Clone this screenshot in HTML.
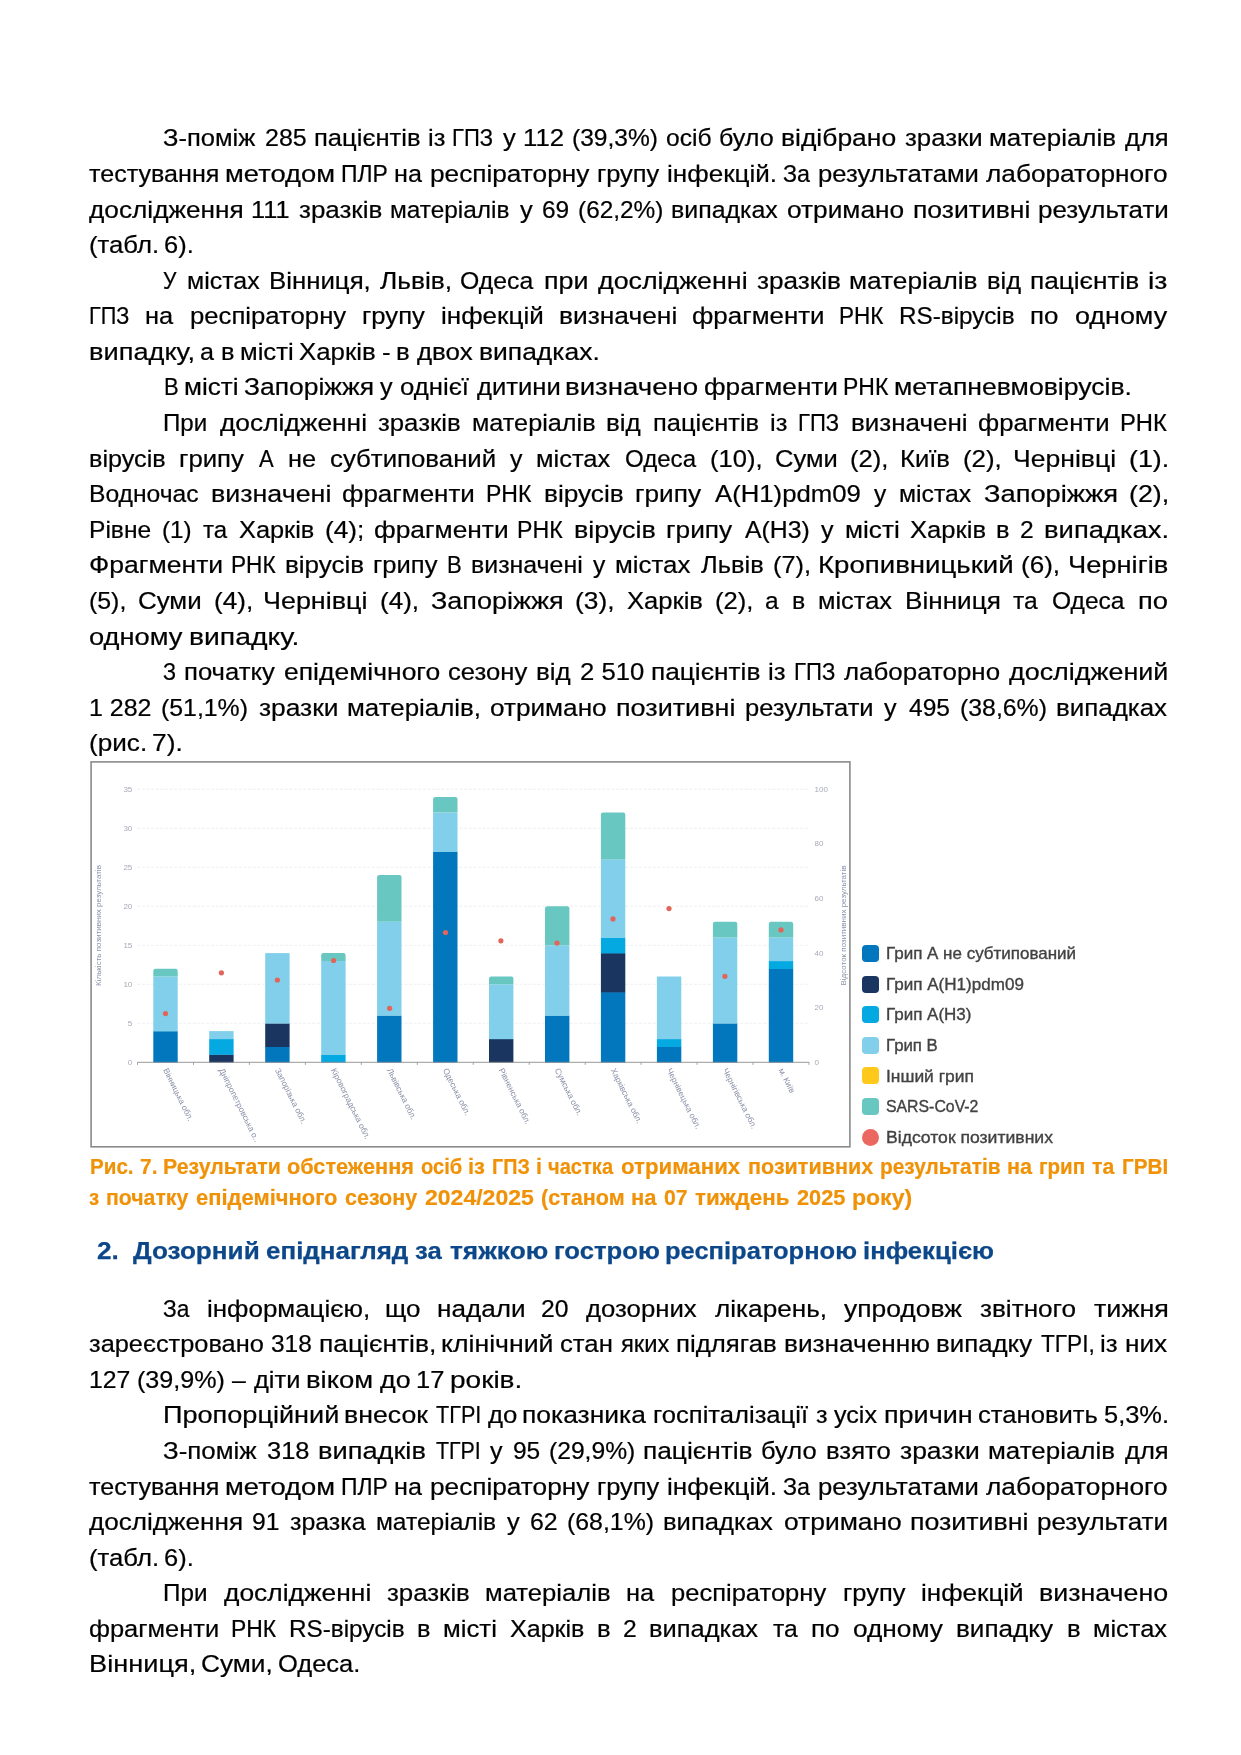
<!DOCTYPE html>
<html lang="uk"><head><meta charset="utf-8"><title>page</title>
<style>
html,body{margin:0;padding:0;background:#fff;}
body{width:1241px;height:1755px;position:relative;overflow:hidden;font-family:"Liberation Sans",sans-serif;}
#pg{position:absolute;left:0;top:0;width:1241px;height:1755px;will-change:transform;}
.ln{position:absolute;white-space:pre;line-height:30px;transform-origin:0 0;color:#000;}
.b{font-size:24.5px;-webkit-text-stroke:0.22px #000;}
.c{font-size:22.0px;font-weight:700;color:#F09208;-webkit-text-stroke:0.2px #F09208;}
.g{font-size:16.2px;color:#424242;-webkit-text-stroke:0.35px #424242;}
.h{font-size:24.5px;font-weight:700;color:#0C4789;-webkit-text-stroke:0.25px #0C4789;}
</style></head>
<body>
<div id="pg">
<div class="ln b" style="left:163.3px;top:123.41px;transform:scaleX(1.0428)">З-поміж</div>
<div class="ln b" style="left:264.5px;top:123.41px;transform:scaleX(1.0200)">285</div>
<div class="ln b" style="left:313.6px;top:123.41px;transform:scaleX(1.0436)">пацієнтів</div>
<div class="ln b" style="left:427.5px;top:123.41px;transform:scaleX(1.0413)">із</div>
<div class="ln b" style="left:452.4px;top:123.41px;transform:scaleX(0.8987)">ГПЗ</div>
<div class="ln b" style="left:502.5px;top:123.41px;transform:scaleX(1.0412)">у</div>
<div class="ln b" style="left:523.4px;top:123.41px;transform:scaleX(1.0522)">112</div>
<div class="ln b" style="left:571.9px;top:123.41px;transform:scaleX(1.0020)">(39,3%)</div>
<div class="ln b" style="left:665.6px;top:123.41px;transform:scaleX(1.0036)">осіб</div>
<div class="ln b" style="left:718.8px;top:123.41px;transform:scaleX(1.0250)">було</div>
<div class="ln b" style="left:780.9px;top:123.41px;transform:scaleX(1.0800)">відібрано</div>
<div class="ln b" style="left:904.5px;top:123.41px;transform:scaleX(1.0519)">зразки</div>
<div class="ln b" style="left:988.9px;top:123.41px;transform:scaleX(1.0589)">матеріалів</div>
<div class="ln b" style="left:1124.7px;top:123.41px;transform:scaleX(1.0431)">для</div>
<div class="ln b" style="left:89.1px;top:158.99px;transform:scaleX(1.0240)">тестування</div>
<div class="ln b" style="left:225.2px;top:158.99px;transform:scaleX(1.1176)">методом</div>
<div class="ln b" style="left:340.9px;top:158.99px;transform:scaleX(0.9362)">ПЛР</div>
<div class="ln b" style="left:394.1px;top:158.99px;transform:scaleX(1.0265)">на</div>
<div class="ln b" style="left:429.7px;top:158.99px;transform:scaleX(1.0700)">респіраторну</div>
<div class="ln b" style="left:596.6px;top:158.99px;transform:scaleX(1.0369)">групу</div>
<div class="ln b" style="left:666.5px;top:158.99px;transform:scaleX(1.0645)">інфекцій.</div>
<div class="ln b" style="left:782.9px;top:158.99px;transform:scaleX(0.9524)">За</div>
<div class="ln b" style="left:817.7px;top:158.99px;transform:scaleX(1.0472)">результатами</div>
<div class="ln b" style="left:986.1px;top:158.99px;transform:scaleX(1.0704)">лабораторного</div>
<div class="ln b" style="left:89.1px;top:194.57px;transform:scaleX(1.0704)">дослідження</div>
<div class="ln b" style="left:251.1px;top:194.57px;transform:scaleX(1.0334)">111</div>
<div class="ln b" style="left:298.8px;top:194.57px;transform:scaleX(1.0591)">зразків</div>
<div class="ln b" style="left:390.3px;top:194.57px;transform:scaleX(0.9957)">матеріалів</div>
<div class="ln b" style="left:519.6px;top:194.57px;transform:scaleX(1.0382)">у</div>
<div class="ln b" style="left:542.1px;top:194.57px;transform:scaleX(0.9977)">69</div>
<div class="ln b" style="left:577.6px;top:194.57px;transform:scaleX(0.9959)">(62,2%)</div>
<div class="ln b" style="left:670.8px;top:194.57px;transform:scaleX(1.0171)">випадках</div>
<div class="ln b" style="left:787.3px;top:194.57px;transform:scaleX(1.0727)">отримано</div>
<div class="ln b" style="left:912.6px;top:194.57px;transform:scaleX(1.0821)">позитивні</div>
<div class="ln b" style="left:1037.5px;top:194.57px;transform:scaleX(1.0600)">результати</div>
<div class="ln b" style="left:89.1px;top:230.15px;transform:scaleX(1.0501)">(табл.</div>
<div class="ln b" style="left:163.6px;top:230.15px;transform:scaleX(1.0403)">6).</div>
<div class="ln b" style="left:163.4px;top:265.73px;transform:scaleX(0.8613)">У</div>
<div class="ln b" style="left:187.0px;top:265.73px;transform:scaleX(1.0182)">містах</div>
<div class="ln b" style="left:269.0px;top:265.73px;transform:scaleX(1.0533)">Вінниця,</div>
<div class="ln b" style="left:380.0px;top:265.73px;transform:scaleX(1.0751)">Львів,</div>
<div class="ln b" style="left:460.4px;top:265.73px;transform:scaleX(1.0122)">Одеса</div>
<div class="ln b" style="left:543.6px;top:265.73px;transform:scaleX(1.0963)">при</div>
<div class="ln b" style="left:597.7px;top:265.73px;transform:scaleX(1.0941)">дослідженні</div>
<div class="ln b" style="left:756.6px;top:265.73px;transform:scaleX(1.0669)">зразків</div>
<div class="ln b" style="left:849.3px;top:265.73px;transform:scaleX(1.0713)">матеріалів</div>
<div class="ln b" style="left:986.7px;top:265.73px;transform:scaleX(1.0380)">від</div>
<div class="ln b" style="left:1030.2px;top:265.73px;transform:scaleX(1.0699)">пацієнтів</div>
<div class="ln b" style="left:1148.2px;top:265.73px;transform:scaleX(1.1674)">із</div>
<div class="ln b" style="left:89.4px;top:301.31px;transform:scaleX(0.8841)">ГПЗ</div>
<div class="ln b" style="left:145.1px;top:301.31px;transform:scaleX(1.0381)">на</div>
<div class="ln b" style="left:189.7px;top:301.31px;transform:scaleX(1.0490)">респіраторну</div>
<div class="ln b" style="left:362.2px;top:301.31px;transform:scaleX(1.0463)">групу</div>
<div class="ln b" style="left:441.3px;top:301.31px;transform:scaleX(1.0628)">інфекцій</div>
<div class="ln b" style="left:558.5px;top:301.31px;transform:scaleX(1.0758)">визначені</div>
<div class="ln b" style="left:692.0px;top:301.31px;transform:scaleX(1.0584)">фрагменти</div>
<div class="ln b" style="left:839.1px;top:301.31px;transform:scaleX(0.9189)">РНК</div>
<div class="ln b" style="left:899.4px;top:301.31px;transform:scaleX(0.9905)">RS-вірусів</div>
<div class="ln b" style="left:1030.3px;top:301.31px;transform:scaleX(1.0554)">по</div>
<div class="ln b" style="left:1074.6px;top:301.31px;transform:scaleX(1.0974)">одному</div>
<div class="ln b" style="left:89.0px;top:336.89px;transform:scaleX(1.1108)">випадку,</div>
<div class="ln b" style="left:199.9px;top:336.89px;transform:scaleX(1.0254)">а</div>
<div class="ln b" style="left:220.5px;top:336.89px;transform:scaleX(1.0368)">в</div>
<div class="ln b" style="left:239.5px;top:336.89px;transform:scaleX(1.0488)">місті</div>
<div class="ln b" style="left:299.3px;top:336.89px;transform:scaleX(1.0536)">Харків</div>
<div class="ln b" style="left:382.0px;top:336.89px;transform:scaleX(1.0570)">-</div>
<div class="ln b" style="left:396.1px;top:336.89px;transform:scaleX(1.0524)">в</div>
<div class="ln b" style="left:416.8px;top:336.89px;transform:scaleX(1.0563)">двох</div>
<div class="ln b" style="left:478.7px;top:336.89px;transform:scaleX(1.0796)">випадках.</div>
<div class="ln b" style="left:163.6px;top:372.47px;transform:scaleX(0.8971)">В</div>
<div class="ln b" style="left:183.5px;top:372.47px;transform:scaleX(1.0636)">місті</div>
<div class="ln b" style="left:243.6px;top:372.47px;transform:scaleX(1.0799)">Запоріжжя</div>
<div class="ln b" style="left:380.0px;top:372.47px;transform:scaleX(1.0302)">у</div>
<div class="ln b" style="left:399.8px;top:372.47px;transform:scaleX(1.0505)">однієї</div>
<div class="ln b" style="left:476.5px;top:372.47px;transform:scaleX(1.0454)">дитини</div>
<div class="ln b" style="left:564.8px;top:372.47px;transform:scaleX(1.1275)">визначено</div>
<div class="ln b" style="left:703.9px;top:372.47px;transform:scaleX(1.0699)">фрагменти</div>
<div class="ln b" style="left:842.5px;top:372.47px;transform:scaleX(0.9375)">РНК</div>
<div class="ln b" style="left:894.1px;top:372.47px;transform:scaleX(1.0858)">метапневмовірусів.</div>
<div class="ln b" style="left:163.4px;top:408.05px;transform:scaleX(0.9855)">При</div>
<div class="ln b" style="left:219.6px;top:408.05px;transform:scaleX(1.0751)">дослідженні</div>
<div class="ln b" style="left:378.1px;top:408.05px;transform:scaleX(1.0504)">зразків</div>
<div class="ln b" style="left:471.7px;top:408.05px;transform:scaleX(1.0302)">матеріалів</div>
<div class="ln b" style="left:606.3px;top:408.05px;transform:scaleX(1.0611)">від</div>
<div class="ln b" style="left:652.7px;top:408.05px;transform:scaleX(1.0393)">пацієнтів</div>
<div class="ln b" style="left:769.9px;top:408.05px;transform:scaleX(1.0410)">із</div>
<div class="ln b" style="left:798.4px;top:408.05px;transform:scaleX(0.9016)">ГПЗ</div>
<div class="ln b" style="left:850.6px;top:408.05px;transform:scaleX(1.0603)">визначені</div>
<div class="ln b" style="left:978.2px;top:408.05px;transform:scaleX(1.0499)">фрагменти</div>
<div class="ln b" style="left:1119.9px;top:408.05px;transform:scaleX(0.9705)">РНК</div>
<div class="ln b" style="left:89.1px;top:443.63px;transform:scaleX(1.0295)">вірусів</div>
<div class="ln b" style="left:178.8px;top:443.63px;transform:scaleX(1.0511)">грипу</div>
<div class="ln b" style="left:259.4px;top:443.63px;transform:scaleX(0.8960)">А</div>
<div class="ln b" style="left:288.1px;top:443.63px;transform:scaleX(1.0348)">не</div>
<div class="ln b" style="left:329.8px;top:443.63px;transform:scaleX(1.0526)">субтипований</div>
<div class="ln b" style="left:510.0px;top:443.63px;transform:scaleX(1.0133)">у</div>
<div class="ln b" style="left:536.4px;top:443.63px;transform:scaleX(1.0400)">містах</div>
<div class="ln b" style="left:625.1px;top:443.63px;transform:scaleX(0.9822)">Одеса</div>
<div class="ln b" style="left:710.4px;top:443.63px;transform:scaleX(1.0429)">(10),</div>
<div class="ln b" style="left:775.2px;top:443.63px;transform:scaleX(1.0408)">Суми</div>
<div class="ln b" style="left:850.3px;top:443.63px;transform:scaleX(1.0430)">(2),</div>
<div class="ln b" style="left:900.1px;top:443.63px;transform:scaleX(1.0456)">Київ</div>
<div class="ln b" style="left:963.1px;top:443.63px;transform:scaleX(1.0556)">(2),</div>
<div class="ln b" style="left:1013.4px;top:443.63px;transform:scaleX(1.0842)">Чернівці</div>
<div class="ln b" style="left:1128.8px;top:443.63px;transform:scaleX(1.0951)">(1).</div>
<div class="ln b" style="left:89.2px;top:479.21px;transform:scaleX(1.0055)">Водночас</div>
<div class="ln b" style="left:210.6px;top:479.21px;transform:scaleX(1.0948)">визначені</div>
<div class="ln b" style="left:342.3px;top:479.21px;transform:scaleX(1.0608)">фрагменти</div>
<div class="ln b" style="left:485.8px;top:479.21px;transform:scaleX(0.9408)">РНК</div>
<div class="ln b" style="left:543.6px;top:479.21px;transform:scaleX(1.0689)">вірусів</div>
<div class="ln b" style="left:634.6px;top:479.21px;transform:scaleX(1.0692)">грипу</div>
<div class="ln b" style="left:714.9px;top:479.21px;transform:scaleX(1.0494)">A(H1)pdm09</div>
<div class="ln b" style="left:873.7px;top:479.21px;transform:scaleX(1.0013)">у</div>
<div class="ln b" style="left:898.5px;top:479.21px;transform:scaleX(1.0129)">містах</div>
<div class="ln b" style="left:983.9px;top:479.21px;transform:scaleX(1.1135)">Запоріжжя</div>
<div class="ln b" style="left:1128.8px;top:479.21px;transform:scaleX(1.0950)">(2),</div>
<div class="ln b" style="left:89.2px;top:514.79px;transform:scaleX(1.0034)">Рівне</div>
<div class="ln b" style="left:161.8px;top:514.79px;transform:scaleX(0.9916)">(1)</div>
<div class="ln b" style="left:202.5px;top:514.79px;transform:scaleX(0.9810)">та</div>
<div class="ln b" style="left:239.1px;top:514.79px;transform:scaleX(1.0350)">Харків</div>
<div class="ln b" style="left:324.6px;top:514.79px;transform:scaleX(1.0700)">(4);</div>
<div class="ln b" style="left:373.5px;top:514.79px;transform:scaleX(1.0749)">фрагменти</div>
<div class="ln b" style="left:517.4px;top:514.79px;transform:scaleX(0.9451)">РНК</div>
<div class="ln b" style="left:574.0px;top:514.79px;transform:scaleX(1.0990)">вірусів</div>
<div class="ln b" style="left:665.9px;top:514.79px;transform:scaleX(1.0715)">грипу</div>
<div class="ln b" style="left:745.0px;top:514.79px;transform:scaleX(1.0117)">A(H3)</div>
<div class="ln b" style="left:821.1px;top:514.79px;transform:scaleX(1.0250)">у</div>
<div class="ln b" style="left:844.8px;top:514.79px;transform:scaleX(1.0687)">місті</div>
<div class="ln b" style="left:910.2px;top:514.79px;transform:scaleX(1.0440)">Харків</div>
<div class="ln b" style="left:996.3px;top:514.79px;transform:scaleX(1.0376)">в</div>
<div class="ln b" style="left:1020.4px;top:514.79px;transform:scaleX(1.0026)">2</div>
<div class="ln b" style="left:1043.9px;top:514.79px;transform:scaleX(1.1191)">випадках.</div>
<div class="ln b" style="left:89.0px;top:550.37px;transform:scaleX(1.0843)">Фрагменти</div>
<div class="ln b" style="left:231.1px;top:550.37px;transform:scaleX(0.9227)">РНК</div>
<div class="ln b" style="left:285.4px;top:550.37px;transform:scaleX(1.0628)">вірусів</div>
<div class="ln b" style="left:373.3px;top:550.37px;transform:scaleX(1.0427)">грипу</div>
<div class="ln b" style="left:447.4px;top:550.37px;transform:scaleX(0.9001)">В</div>
<div class="ln b" style="left:470.9px;top:550.37px;transform:scaleX(1.0164)">визначені</div>
<div class="ln b" style="left:592.5px;top:550.37px;transform:scaleX(1.0051)">у</div>
<div class="ln b" style="left:614.6px;top:550.37px;transform:scaleX(1.0556)">містах</div>
<div class="ln b" style="left:701.0px;top:550.37px;transform:scaleX(1.0389)">Львів</div>
<div class="ln b" style="left:772.6px;top:550.37px;transform:scaleX(1.0345)">(7),</div>
<div class="ln b" style="left:817.7px;top:550.37px;transform:scaleX(1.1266)">Кропивницький</div>
<div class="ln b" style="left:1021.3px;top:550.37px;transform:scaleX(1.0642)">(6),</div>
<div class="ln b" style="left:1067.6px;top:550.37px;transform:scaleX(1.1138)">Чернігів</div>
<div class="ln b" style="left:89.1px;top:585.95px;transform:scaleX(1.0154)">(5),</div>
<div class="ln b" style="left:138.1px;top:585.95px;transform:scaleX(1.0573)">Суми</div>
<div class="ln b" style="left:213.5px;top:585.95px;transform:scaleX(1.0659)">(4),</div>
<div class="ln b" style="left:263.4px;top:585.95px;transform:scaleX(1.0983)">Чернівці</div>
<div class="ln b" style="left:379.6px;top:585.95px;transform:scaleX(1.0630)">(4),</div>
<div class="ln b" style="left:430.6px;top:585.95px;transform:scaleX(1.1013)">Запоріжжя</div>
<div class="ln b" style="left:574.9px;top:585.95px;transform:scaleX(1.0743)">(3),</div>
<div class="ln b" style="left:626.6px;top:585.95px;transform:scaleX(1.0438)">Харків</div>
<div class="ln b" style="left:715.1px;top:585.95px;transform:scaleX(1.0426)">(2),</div>
<div class="ln b" style="left:765.2px;top:585.95px;transform:scaleX(0.9981)">а</div>
<div class="ln b" style="left:792.3px;top:585.95px;transform:scaleX(1.0159)">в</div>
<div class="ln b" style="left:817.9px;top:585.95px;transform:scaleX(1.0369)">містах</div>
<div class="ln b" style="left:904.6px;top:585.95px;transform:scaleX(1.0663)">Вінниця</div>
<div class="ln b" style="left:1013.4px;top:585.95px;transform:scaleX(1.0006)">та</div>
<div class="ln b" style="left:1052.0px;top:585.95px;transform:scaleX(1.0025)">Одеса</div>
<div class="ln b" style="left:1137.8px;top:585.95px;transform:scaleX(1.1138)">по</div>
<div class="ln b" style="left:89.0px;top:621.53px;transform:scaleX(1.1120)">одному</div>
<div class="ln b" style="left:188.6px;top:621.53px;transform:scaleX(1.1558)">випадку.</div>
<div class="ln b" style="left:163.4px;top:657.11px;transform:scaleX(0.8832)">З</div>
<div class="ln b" style="left:184.1px;top:657.11px;transform:scaleX(1.0475)">початку</div>
<div class="ln b" style="left:284.1px;top:657.11px;transform:scaleX(1.0808)">епідемічного</div>
<div class="ln b" style="left:448.4px;top:657.11px;transform:scaleX(1.0462)">сезону</div>
<div class="ln b" style="left:536.2px;top:657.11px;transform:scaleX(1.0586)">від</div>
<div class="ln b" style="left:579.5px;top:657.11px;transform:scaleX(1.0482)">2 510</div>
<div class="ln b" style="left:651.4px;top:657.11px;transform:scaleX(1.0715)">пацієнтів</div>
<div class="ln b" style="left:768.3px;top:657.11px;transform:scaleX(1.0527)">із</div>
<div class="ln b" style="left:793.5px;top:657.11px;transform:scaleX(0.9050)">ГПЗ</div>
<div class="ln b" style="left:844.0px;top:657.11px;transform:scaleX(1.0568)">лабораторно</div>
<div class="ln b" style="left:1009.1px;top:657.11px;transform:scaleX(1.0982)">досліджений</div>
<div class="ln b" style="left:89.1px;top:692.69px;transform:scaleX(1.0192)">1 282</div>
<div class="ln b" style="left:161.4px;top:692.69px;transform:scaleX(1.0132)">(51,1%)</div>
<div class="ln b" style="left:258.7px;top:692.69px;transform:scaleX(1.0762)">зразки</div>
<div class="ln b" style="left:347.1px;top:692.69px;transform:scaleX(1.0576)">матеріалів,</div>
<div class="ln b" style="left:490.2px;top:692.69px;transform:scaleX(1.0676)">отримано</div>
<div class="ln b" style="left:616.4px;top:692.69px;transform:scaleX(1.1010)">позитивні</div>
<div class="ln b" style="left:744.9px;top:692.69px;transform:scaleX(1.0417)">результати</div>
<div class="ln b" style="left:884.2px;top:692.69px;transform:scaleX(1.0279)">у</div>
<div class="ln b" style="left:908.7px;top:692.69px;transform:scaleX(1.0027)">495</div>
<div class="ln b" style="left:959.7px;top:692.69px;transform:scaleX(1.0136)">(38,6%)</div>
<div class="ln b" style="left:1055.8px;top:692.69px;transform:scaleX(1.0574)">випадках</div>
<div class="ln b" style="left:89.1px;top:728.27px;transform:scaleX(1.0666)">(рис.</div>
<div class="ln b" style="left:151.6px;top:728.27px;transform:scaleX(1.0765)">7).</div>
<div class="ln b" style="left:163.4px;top:1293.61px;transform:scaleX(0.9290)">За</div>
<div class="ln b" style="left:207.0px;top:1293.61px;transform:scaleX(1.0593)">інформацією,</div>
<div class="ln b" style="left:385.0px;top:1293.61px;transform:scaleX(1.0593)">що</div>
<div class="ln b" style="left:436.5px;top:1293.61px;transform:scaleX(1.0655)">надали</div>
<div class="ln b" style="left:540.9px;top:1293.61px;transform:scaleX(1.0081)">20</div>
<div class="ln b" style="left:586.1px;top:1293.61px;transform:scaleX(1.0510)">дозорних</div>
<div class="ln b" style="left:715.4px;top:1293.61px;transform:scaleX(1.0677)">лікарень,</div>
<div class="ln b" style="left:844.0px;top:1293.61px;transform:scaleX(1.0782)">упродовж</div>
<div class="ln b" style="left:980.0px;top:1293.61px;transform:scaleX(1.0666)">звітного</div>
<div class="ln b" style="left:1093.5px;top:1293.61px;transform:scaleX(1.1010)">тижня</div>
<div class="ln b" style="left:89.1px;top:1329.19px;transform:scaleX(1.0355)">зареєстровано</div>
<div class="ln b" style="left:271.4px;top:1329.19px;transform:scaleX(0.9982)">318</div>
<div class="ln b" style="left:318.7px;top:1329.19px;transform:scaleX(1.0770)">пацієнтів,</div>
<div class="ln b" style="left:441.3px;top:1329.19px;transform:scaleX(1.0885)">клінічний</div>
<div class="ln b" style="left:560.3px;top:1329.19px;transform:scaleX(1.0498)">стан</div>
<div class="ln b" style="left:620.6px;top:1329.19px;transform:scaleX(0.9704)">яких</div>
<div class="ln b" style="left:676.4px;top:1329.19px;transform:scaleX(1.0531)">підлягав</div>
<div class="ln b" style="left:783.6px;top:1329.19px;transform:scaleX(1.0695)">визначенню</div>
<div class="ln b" style="left:936.0px;top:1329.19px;transform:scaleX(1.0550)">випадку</div>
<div class="ln b" style="left:1041.0px;top:1329.19px;transform:scaleX(0.9235)">ТГРІ,</div>
<div class="ln b" style="left:1100.4px;top:1329.19px;transform:scaleX(1.0569)">із</div>
<div class="ln b" style="left:1124.7px;top:1329.19px;transform:scaleX(1.0700)">них</div>
<div class="ln b" style="left:89.2px;top:1364.77px;transform:scaleX(1.0121)">127</div>
<div class="ln b" style="left:136.6px;top:1364.77px;transform:scaleX(1.0245)">(39,9%)</div>
<div class="ln b" style="left:231.9px;top:1364.77px;transform:scaleX(1.0149)">–</div>
<div class="ln b" style="left:254.3px;top:1364.77px;transform:scaleX(1.0378)">діти</div>
<div class="ln b" style="left:305.9px;top:1364.77px;transform:scaleX(1.1198)">віком</div>
<div class="ln b" style="left:379.7px;top:1364.77px;transform:scaleX(1.0936)">до</div>
<div class="ln b" style="left:416.1px;top:1364.77px;transform:scaleX(1.0417)">17</div>
<div class="ln b" style="left:450.3px;top:1364.77px;transform:scaleX(1.1425)">років.</div>
<div class="ln b" style="left:163.2px;top:1400.35px;transform:scaleX(1.1056)">Пропорційний</div>
<div class="ln b" style="left:344.1px;top:1400.35px;transform:scaleX(1.0892)">внесок</div>
<div class="ln b" style="left:436.1px;top:1400.35px;transform:scaleX(0.8829)">ТГРІ</div>
<div class="ln b" style="left:487.6px;top:1400.35px;transform:scaleX(1.0516)">до</div>
<div class="ln b" style="left:522.4px;top:1400.35px;transform:scaleX(1.0784)">показника</div>
<div class="ln b" style="left:652.9px;top:1400.35px;transform:scaleX(1.0446)">госпіталізації</div>
<div class="ln b" style="left:815.5px;top:1400.35px;transform:scaleX(1.0298)">з</div>
<div class="ln b" style="left:834.4px;top:1400.35px;transform:scaleX(1.0245)">усіх</div>
<div class="ln b" style="left:883.6px;top:1400.35px;transform:scaleX(1.1005)">причин</div>
<div class="ln b" style="left:977.7px;top:1400.35px;transform:scaleX(1.0454)">становить</div>
<div class="ln b" style="left:1103.9px;top:1400.35px;transform:scaleX(1.0376)">5,3%.</div>
<div class="ln b" style="left:163.3px;top:1435.93px;transform:scaleX(1.0577)">З-поміж</div>
<div class="ln b" style="left:267.3px;top:1435.93px;transform:scaleX(1.0390)">318</div>
<div class="ln b" style="left:318.2px;top:1435.93px;transform:scaleX(1.1111)">випадків</div>
<div class="ln b" style="left:435.8px;top:1435.93px;transform:scaleX(0.8718)">ТГРІ</div>
<div class="ln b" style="left:490.0px;top:1435.93px;transform:scaleX(1.0218)">у</div>
<div class="ln b" style="left:512.7px;top:1435.93px;transform:scaleX(0.9991)">95</div>
<div class="ln b" style="left:548.8px;top:1435.93px;transform:scaleX(1.0056)">(29,9%)</div>
<div class="ln b" style="left:643.1px;top:1435.93px;transform:scaleX(1.0730)">пацієнтів</div>
<div class="ln b" style="left:761.4px;top:1435.93px;transform:scaleX(1.0413)">було</div>
<div class="ln b" style="left:825.6px;top:1435.93px;transform:scaleX(1.0483)">взято</div>
<div class="ln b" style="left:900.1px;top:1435.93px;transform:scaleX(1.0804)">зразки</div>
<div class="ln b" style="left:987.6px;top:1435.93px;transform:scaleX(1.0590)">матеріалів</div>
<div class="ln b" style="left:1124.7px;top:1435.93px;transform:scaleX(1.0431)">для</div>
<div class="ln b" style="left:89.1px;top:1471.51px;transform:scaleX(1.0240)">тестування</div>
<div class="ln b" style="left:225.2px;top:1471.51px;transform:scaleX(1.1176)">методом</div>
<div class="ln b" style="left:340.9px;top:1471.51px;transform:scaleX(0.9362)">ПЛР</div>
<div class="ln b" style="left:394.1px;top:1471.51px;transform:scaleX(1.0265)">на</div>
<div class="ln b" style="left:429.7px;top:1471.51px;transform:scaleX(1.0700)">респіраторну</div>
<div class="ln b" style="left:596.6px;top:1471.51px;transform:scaleX(1.0369)">групу</div>
<div class="ln b" style="left:666.5px;top:1471.51px;transform:scaleX(1.0645)">інфекцій.</div>
<div class="ln b" style="left:782.9px;top:1471.51px;transform:scaleX(0.9524)">За</div>
<div class="ln b" style="left:817.7px;top:1471.51px;transform:scaleX(1.0472)">результатами</div>
<div class="ln b" style="left:986.1px;top:1471.51px;transform:scaleX(1.0704)">лабораторного</div>
<div class="ln b" style="left:89.1px;top:1507.09px;transform:scaleX(1.0656)">дослідження</div>
<div class="ln b" style="left:252.2px;top:1507.09px;transform:scaleX(1.0063)">91</div>
<div class="ln b" style="left:289.9px;top:1507.09px;transform:scaleX(1.0165)">зразка</div>
<div class="ln b" style="left:375.8px;top:1507.09px;transform:scaleX(1.0016)">матеріалів</div>
<div class="ln b" style="left:506.9px;top:1507.09px;transform:scaleX(1.0380)">у</div>
<div class="ln b" style="left:530.4px;top:1507.09px;transform:scaleX(1.0156)">62</div>
<div class="ln b" style="left:567.3px;top:1507.09px;transform:scaleX(1.0149)">(68,1%)</div>
<div class="ln b" style="left:663.1px;top:1507.09px;transform:scaleX(1.0446)">випадках</div>
<div class="ln b" style="left:783.5px;top:1507.09px;transform:scaleX(1.0777)">отримано</div>
<div class="ln b" style="left:910.4px;top:1507.09px;transform:scaleX(1.0927)">позитивні</div>
<div class="ln b" style="left:1037.4px;top:1507.09px;transform:scaleX(1.0606)">результати</div>
<div class="ln b" style="left:89.1px;top:1542.67px;transform:scaleX(1.0501)">(табл.</div>
<div class="ln b" style="left:163.6px;top:1542.67px;transform:scaleX(1.0403)">6).</div>
<div class="ln b" style="left:163.4px;top:1578.25px;transform:scaleX(0.9887)">При</div>
<div class="ln b" style="left:224.1px;top:1578.25px;transform:scaleX(1.0770)">дослідженні</div>
<div class="ln b" style="left:387.2px;top:1578.25px;transform:scaleX(1.0536)">зразків</div>
<div class="ln b" style="left:485.3px;top:1578.25px;transform:scaleX(1.0473)">матеріалів</div>
<div class="ln b" style="left:626.3px;top:1578.25px;transform:scaleX(1.0379)">на</div>
<div class="ln b" style="left:671.0px;top:1578.25px;transform:scaleX(1.0420)">респіраторну</div>
<div class="ln b" style="left:842.6px;top:1578.25px;transform:scaleX(1.0391)">групу</div>
<div class="ln b" style="left:921.4px;top:1578.25px;transform:scaleX(1.0619)">інфекцій</div>
<div class="ln b" style="left:1038.6px;top:1578.25px;transform:scaleX(1.0933)">визначено</div>
<div class="ln b" style="left:89.1px;top:1613.83px;transform:scaleX(1.0390)">фрагменти</div>
<div class="ln b" style="left:230.9px;top:1613.83px;transform:scaleX(0.9344)">РНК</div>
<div class="ln b" style="left:289.2px;top:1613.83px;transform:scaleX(0.9912)">RS-вірусів</div>
<div class="ln b" style="left:417.3px;top:1613.83px;transform:scaleX(1.0350)">в</div>
<div class="ln b" style="left:443.2px;top:1613.83px;transform:scaleX(1.0528)">місті</div>
<div class="ln b" style="left:510.1px;top:1613.83px;transform:scaleX(1.0221)">Харків</div>
<div class="ln b" style="left:596.9px;top:1613.83px;transform:scaleX(1.0475)">в</div>
<div class="ln b" style="left:623.4px;top:1613.83px;transform:scaleX(1.0054)">2</div>
<div class="ln b" style="left:649.4px;top:1613.83px;transform:scaleX(1.0383)">випадках</div>
<div class="ln b" style="left:773.0px;top:1613.83px;transform:scaleX(1.0065)">та</div>
<div class="ln b" style="left:811.3px;top:1613.83px;transform:scaleX(1.0645)">по</div>
<div class="ln b" style="left:853.0px;top:1613.83px;transform:scaleX(1.0709)">одному</div>
<div class="ln b" style="left:956.3px;top:1613.83px;transform:scaleX(1.0658)">випадку</div>
<div class="ln b" style="left:1066.8px;top:1613.83px;transform:scaleX(1.0482)">в</div>
<div class="ln b" style="left:1092.9px;top:1613.83px;transform:scaleX(1.0367)">містах</div>
<div class="ln b" style="left:89.0px;top:1649.41px;transform:scaleX(1.1097)">Вінниця,</div>
<div class="ln b" style="left:201.1px;top:1649.41px;transform:scaleX(1.0701)">Суми,</div>
<div class="ln b" style="left:277.9px;top:1649.41px;transform:scaleX(1.0413)">Одеса.</div>
<div class="ln c" style="left:89.9px;top:1151.88px;transform:scaleX(0.9362)">Рис.</div>
<div class="ln c" style="left:139.8px;top:1151.88px;transform:scaleX(0.9514)">7.</div>
<div class="ln c" style="left:163.1px;top:1151.88px;transform:scaleX(0.9698)">Результати</div>
<div class="ln c" style="left:287.3px;top:1151.88px;transform:scaleX(0.9864)">обстеження</div>
<div class="ln c" style="left:420.6px;top:1151.88px;transform:scaleX(0.9144)">осіб</div>
<div class="ln c" style="left:468.2px;top:1151.88px;transform:scaleX(0.9936)">із</div>
<div class="ln c" style="left:491.8px;top:1151.88px;transform:scaleX(0.8987)">ГПЗ</div>
<div class="ln c" style="left:535.9px;top:1151.88px;transform:scaleX(0.9764)">і</div>
<div class="ln c" style="left:548.2px;top:1151.88px;transform:scaleX(0.9131)">частка</div>
<div class="ln c" style="left:621.2px;top:1151.88px;transform:scaleX(1.0111)">отриманих</div>
<div class="ln c" style="left:747.5px;top:1151.88px;transform:scaleX(0.9799)">позитивних</div>
<div class="ln c" style="left:879.8px;top:1151.88px;transform:scaleX(0.9490)">результатів</div>
<div class="ln c" style="left:1006.7px;top:1151.88px;transform:scaleX(0.9833)">на</div>
<div class="ln c" style="left:1039.2px;top:1151.88px;transform:scaleX(0.9341)">грип</div>
<div class="ln c" style="left:1092.0px;top:1151.88px;transform:scaleX(0.9663)">та</div>
<div class="ln c" style="left:1121.7px;top:1151.88px;transform:scaleX(0.9421)">ГРВІ</div>
<div class="ln c" style="left:89.3px;top:1182.98px;transform:scaleX(0.9329)">з</div>
<div class="ln c" style="left:106.2px;top:1182.98px;transform:scaleX(0.9658)">початку</div>
<div class="ln c" style="left:196.4px;top:1182.98px;transform:scaleX(0.9975)">епідемічного</div>
<div class="ln c" style="left:345.0px;top:1182.98px;transform:scaleX(0.9775)">сезону</div>
<div class="ln c" style="left:425.1px;top:1182.98px;transform:scaleX(1.0467)">2024/2025</div>
<div class="ln c" style="left:541.1px;top:1182.98px;transform:scaleX(0.9807)">(станом</div>
<div class="ln c" style="left:630.6px;top:1182.98px;transform:scaleX(0.9991)">на</div>
<div class="ln c" style="left:664.3px;top:1182.98px;transform:scaleX(0.9650)">07</div>
<div class="ln c" style="left:695.2px;top:1182.98px;transform:scaleX(1.0172)">тиждень</div>
<div class="ln c" style="left:796.9px;top:1182.98px;transform:scaleX(0.9889)">2025</div>
<div class="ln c" style="left:852.0px;top:1182.98px;transform:scaleX(1.0463)">року)</div>
<div class="ln h" style="left:97.0px;top:1235.71px;transform:scaleX(1.0686)">2.</div>
<div class="ln h" style="left:133.4px;top:1235.71px;transform:scaleX(1.0664)">Дозорний</div>
<div class="ln h" style="left:265.7px;top:1235.71px;transform:scaleX(1.0600)">епіднагляд</div>
<div class="ln h" style="left:415.3px;top:1235.71px;transform:scaleX(1.0488)">за</div>
<div class="ln h" style="left:449.9px;top:1235.71px;transform:scaleX(1.0730)">тяжкою</div>
<div class="ln h" style="left:553.7px;top:1235.71px;transform:scaleX(1.0476)">гострою</div>
<div class="ln h" style="left:665.3px;top:1235.71px;transform:scaleX(1.0411)">респіраторною</div>
<div class="ln h" style="left:863.0px;top:1235.71px;transform:scaleX(1.0487)">інфекцією</div>
<div class="ln g" style="left:886.3px;top:938.39px;transform:scaleX(1.0488)">Грип А не субтипований</div>
<div class="ln g" style="left:886.3px;top:969.09px;transform:scaleX(1.0529)">Грип A(H1)pdm09</div>
<div class="ln g" style="left:886.3px;top:998.99px;transform:scaleX(1.0492)">Грип A(H3)</div>
<div class="ln g" style="left:886.3px;top:1030.19px;transform:scaleX(1.0364)">Грип B</div>
<div class="ln g" style="left:886.3px;top:1060.59px;transform:scaleX(1.0745)">Інший грип</div>
<div class="ln g" style="left:886.3px;top:1091.29px;transform:scaleX(0.9782)">SARS-CoV-2</div>
<div class="ln g" style="left:886.3px;top:1122.29px;transform:scaleX(1.0858)">Відсоток позитивних</div>
<svg width="1241" height="1755" viewBox="0 0 1241 1755" style="position:absolute;left:0;top:0" font-family="Liberation Sans, sans-serif">
<rect x="91.1" y="761.9" width="758.8" height="384.9" fill="#fff" stroke="#8a8a8a" stroke-width="1.6"/>
<line x1="137.5" x2="809.0" y1="1023.3" y2="1023.3" stroke="#e9eaef" stroke-width="0.75" stroke-dasharray="3,1.6"/>
<line x1="137.5" x2="809.0" y1="984.3" y2="984.3" stroke="#e9eaef" stroke-width="0.75" stroke-dasharray="3,1.6"/>
<line x1="137.5" x2="809.0" y1="945.3" y2="945.3" stroke="#e9eaef" stroke-width="0.75" stroke-dasharray="3,1.6"/>
<line x1="137.5" x2="809.0" y1="906.2" y2="906.2" stroke="#e9eaef" stroke-width="0.75" stroke-dasharray="3,1.6"/>
<line x1="137.5" x2="809.0" y1="867.2" y2="867.2" stroke="#e9eaef" stroke-width="0.75" stroke-dasharray="3,1.6"/>
<line x1="137.5" x2="809.0" y1="828.2" y2="828.2" stroke="#e9eaef" stroke-width="0.75" stroke-dasharray="3,1.6"/>
<line x1="137.5" x2="809.0" y1="789.2" y2="789.2" stroke="#e9eaef" stroke-width="0.75" stroke-dasharray="3,1.6"/>
<text x="132.3" y="1064.9" font-size="8.0" fill="#a6a9b8" text-anchor="end">0</text>
<text x="132.3" y="1025.9" font-size="8.0" fill="#a6a9b8" text-anchor="end">5</text>
<text x="132.3" y="986.9" font-size="8.0" fill="#a6a9b8" text-anchor="end">10</text>
<text x="132.3" y="947.9" font-size="8.0" fill="#a6a9b8" text-anchor="end">15</text>
<text x="132.3" y="908.8" font-size="8.0" fill="#a6a9b8" text-anchor="end">20</text>
<text x="132.3" y="869.8" font-size="8.0" fill="#a6a9b8" text-anchor="end">25</text>
<text x="132.3" y="830.8" font-size="8.0" fill="#a6a9b8" text-anchor="end">30</text>
<text x="132.3" y="791.8" font-size="8.0" fill="#a6a9b8" text-anchor="end">35</text>
<text x="814.6" y="1064.7" font-size="8.0" fill="#a6a9b8">0</text>
<text x="814.6" y="1010.1" font-size="8.0" fill="#a6a9b8">20</text>
<text x="814.6" y="955.5" font-size="8.0" fill="#a6a9b8">40</text>
<text x="814.6" y="900.8" font-size="8.0" fill="#a6a9b8">60</text>
<text x="814.6" y="846.2" font-size="8.0" fill="#a6a9b8">80</text>
<text x="814.6" y="791.6" font-size="8.0" fill="#a6a9b8">100</text>
<rect x="153.3" y="1031.1" width="24.4" height="31.5" fill="#0277BD"/>
<rect x="153.3" y="976.5" width="24.4" height="54.9" fill="#81CFEA"/>
<path d="M153.3,976.5 L153.3,970.9 Q153.3,968.7 155.5,968.7 L175.5,968.7 Q177.7,968.7 177.7,970.9 L177.7,976.5 Z" fill="#68C7C1"/>
<rect x="209.2" y="1054.5" width="24.4" height="8.1" fill="#1A3560"/>
<rect x="209.2" y="1038.9" width="24.4" height="15.9" fill="#04A9E1"/>
<rect x="209.2" y="1031.1" width="24.4" height="8.1" fill="#81CFEA"/>
<rect x="265.2" y="1046.7" width="24.4" height="15.9" fill="#0277BD"/>
<rect x="265.2" y="1023.3" width="24.4" height="23.7" fill="#1A3560"/>
<rect x="265.2" y="953.1" width="24.4" height="70.5" fill="#81CFEA"/>
<rect x="321.2" y="1054.5" width="24.4" height="8.1" fill="#04A9E1"/>
<rect x="321.2" y="960.9" width="24.4" height="93.9" fill="#81CFEA"/>
<path d="M321.2,960.9 L321.2,955.3 Q321.2,953.1 323.4,953.1 L343.4,953.1 Q345.6,953.1 345.6,955.3 L345.6,960.9 Z" fill="#68C7C1"/>
<rect x="377.1" y="1015.5" width="24.4" height="47.1" fill="#0277BD"/>
<rect x="377.1" y="921.8" width="24.4" height="93.9" fill="#81CFEA"/>
<path d="M377.1,921.8 L377.1,877.2 Q377.1,875.0 379.3,875.0 L399.3,875.0 Q401.5,875.0 401.5,877.2 L401.5,921.8 Z" fill="#68C7C1"/>
<rect x="433.1" y="851.6" width="24.4" height="211.0" fill="#0277BD"/>
<rect x="433.1" y="812.6" width="24.4" height="39.3" fill="#81CFEA"/>
<path d="M433.1,812.6 L433.1,799.2 Q433.1,797.0 435.3,797.0 L455.3,797.0 Q457.5,797.0 457.5,799.2 L457.5,812.6 Z" fill="#68C7C1"/>
<rect x="489.0" y="1038.9" width="24.4" height="23.7" fill="#1A3560"/>
<rect x="489.0" y="984.3" width="24.4" height="54.9" fill="#81CFEA"/>
<path d="M489.0,984.3 L489.0,978.7 Q489.0,976.5 491.2,976.5 L511.2,976.5 Q513.4,976.5 513.4,978.7 L513.4,984.3 Z" fill="#68C7C1"/>
<rect x="545.0" y="1015.5" width="24.4" height="47.1" fill="#0277BD"/>
<rect x="545.0" y="945.3" width="24.4" height="70.5" fill="#81CFEA"/>
<path d="M545.0,945.3 L545.0,908.4 Q545.0,906.2 547.2,906.2 L567.2,906.2 Q569.4,906.2 569.4,908.4 L569.4,945.3 Z" fill="#68C7C1"/>
<rect x="600.9" y="992.1" width="24.4" height="70.5" fill="#0277BD"/>
<rect x="600.9" y="953.1" width="24.4" height="39.3" fill="#1A3560"/>
<rect x="600.9" y="937.5" width="24.4" height="15.9" fill="#04A9E1"/>
<rect x="600.9" y="859.4" width="24.4" height="78.3" fill="#81CFEA"/>
<path d="M600.9,859.4 L600.9,814.8 Q600.9,812.6 603.1,812.6 L623.1,812.6 Q625.3,812.6 625.3,814.8 L625.3,859.4 Z" fill="#68C7C1"/>
<rect x="656.9" y="1046.7" width="24.4" height="15.9" fill="#0277BD"/>
<rect x="656.9" y="1038.9" width="24.4" height="8.1" fill="#04A9E1"/>
<rect x="656.9" y="976.5" width="24.4" height="62.7" fill="#81CFEA"/>
<rect x="712.9" y="1023.3" width="24.4" height="39.3" fill="#0277BD"/>
<rect x="712.9" y="937.5" width="24.4" height="86.1" fill="#81CFEA"/>
<path d="M712.9,937.5 L712.9,924.0 Q712.9,921.8 715.1,921.8 L735.1,921.8 Q737.3,921.8 737.3,924.0 L737.3,937.5 Z" fill="#68C7C1"/>
<rect x="768.8" y="968.7" width="24.4" height="93.9" fill="#0277BD"/>
<rect x="768.8" y="960.9" width="24.4" height="8.1" fill="#04A9E1"/>
<rect x="768.8" y="937.5" width="24.4" height="23.7" fill="#81CFEA"/>
<path d="M768.8,937.5 L768.8,924.0 Q768.8,921.8 771.0,921.8 L791.0,921.8 Q793.2,921.8 793.2,924.0 L793.2,937.5 Z" fill="#68C7C1"/>
<line x1="137.5" x2="809.0" y1="1062.3" y2="1062.3" stroke="#8d8d8d" stroke-width="0.9"/>
<line x1="137.5" x2="137.5" y1="1062.3" y2="1064.8999999999999" stroke="#8d8d8d" stroke-width="0.8"/>
<line x1="193.5" x2="193.5" y1="1062.3" y2="1064.8999999999999" stroke="#8d8d8d" stroke-width="0.8"/>
<line x1="249.4" x2="249.4" y1="1062.3" y2="1064.8999999999999" stroke="#8d8d8d" stroke-width="0.8"/>
<line x1="305.4" x2="305.4" y1="1062.3" y2="1064.8999999999999" stroke="#8d8d8d" stroke-width="0.8"/>
<line x1="361.3" x2="361.3" y1="1062.3" y2="1064.8999999999999" stroke="#8d8d8d" stroke-width="0.8"/>
<line x1="417.3" x2="417.3" y1="1062.3" y2="1064.8999999999999" stroke="#8d8d8d" stroke-width="0.8"/>
<line x1="473.2" x2="473.2" y1="1062.3" y2="1064.8999999999999" stroke="#8d8d8d" stroke-width="0.8"/>
<line x1="529.2" x2="529.2" y1="1062.3" y2="1064.8999999999999" stroke="#8d8d8d" stroke-width="0.8"/>
<line x1="585.2" x2="585.2" y1="1062.3" y2="1064.8999999999999" stroke="#8d8d8d" stroke-width="0.8"/>
<line x1="641.1" x2="641.1" y1="1062.3" y2="1064.8999999999999" stroke="#8d8d8d" stroke-width="0.8"/>
<line x1="697.1" x2="697.1" y1="1062.3" y2="1064.8999999999999" stroke="#8d8d8d" stroke-width="0.8"/>
<line x1="753.0" x2="753.0" y1="1062.3" y2="1064.8999999999999" stroke="#8d8d8d" stroke-width="0.8"/>
<line x1="809.0" x2="809.0" y1="1062.3" y2="1064.8999999999999" stroke="#8d8d8d" stroke-width="0.8"/>
<circle cx="165.5" cy="1013.6" r="2.6" fill="#E2645A"/>
<circle cx="221.4" cy="972.8" r="2.6" fill="#E2645A"/>
<circle cx="277.4" cy="980.0" r="2.6" fill="#E2645A"/>
<circle cx="333.6" cy="960.5" r="2.6" fill="#E2645A"/>
<circle cx="389.6" cy="1008.3" r="2.6" fill="#E2645A"/>
<circle cx="445.5" cy="932.5" r="2.6" fill="#E2645A"/>
<circle cx="500.9" cy="940.8" r="2.6" fill="#E2645A"/>
<circle cx="557.0" cy="943.1" r="2.6" fill="#E2645A"/>
<circle cx="613.0" cy="918.9" r="2.6" fill="#E2645A"/>
<circle cx="669.0" cy="908.6" r="2.6" fill="#E2645A"/>
<circle cx="724.9" cy="976.3" r="2.6" fill="#E2645A"/>
<circle cx="781.0" cy="929.9" r="2.6" fill="#E2645A"/>
<text transform="translate(162.9,1069.9) rotate(63.5)" font-size="8.4" fill="#8b90a8">Вінницька обл.</text>
<text transform="translate(218.8,1069.9) rotate(63.5)" font-size="8.4" fill="#8b90a8">Дніпропетровська о..</text>
<text transform="translate(274.8,1069.9) rotate(63.5)" font-size="8.4" fill="#8b90a8">Запорізька обл.</text>
<text transform="translate(330.8,1069.9) rotate(63.5)" font-size="8.4" fill="#8b90a8">Кіровоградська обл.</text>
<text transform="translate(386.7,1069.9) rotate(63.5)" font-size="8.4" fill="#8b90a8">Львівська обл.</text>
<text transform="translate(442.7,1069.9) rotate(63.5)" font-size="8.4" fill="#8b90a8">Одеська обл.</text>
<text transform="translate(498.6,1069.9) rotate(63.5)" font-size="8.4" fill="#8b90a8">Рівненська обл.</text>
<text transform="translate(554.6,1069.9) rotate(63.5)" font-size="8.4" fill="#8b90a8">Сумська обл.</text>
<text transform="translate(610.5,1069.9) rotate(63.5)" font-size="8.4" fill="#8b90a8">Харківська обл.</text>
<text transform="translate(666.5,1069.9) rotate(63.5)" font-size="8.4" fill="#8b90a8">Чернівецька обл.</text>
<text transform="translate(722.5,1069.9) rotate(63.5)" font-size="8.4" fill="#8b90a8">Чернігівська обл.</text>
<text transform="translate(778.4,1069.9) rotate(63.5)" font-size="8.4" fill="#8b90a8">м. Київ</text>
<text transform="translate(100.6,925.5) rotate(-90)" font-size="8.0" fill="#8c91aa" text-anchor="middle">Кількість позитивних результатів</text>
<text transform="translate(846.4,925.5) rotate(-90)" font-size="8.0" fill="#8c91aa" text-anchor="middle">Відсоток позитивних результатів</text>
</svg>
<div style="position:absolute;left:862px;top:944.9px;width:17px;height:17px;border-radius:4px;background:#0277BD"></div>
<div style="position:absolute;left:862px;top:975.6px;width:17px;height:17px;border-radius:4px;background:#1A3560"></div>
<div style="position:absolute;left:862px;top:1005.5px;width:17px;height:17px;border-radius:4px;background:#04A9E1"></div>
<div style="position:absolute;left:862px;top:1036.7px;width:17px;height:17px;border-radius:4px;background:#81CFEA"></div>
<div style="position:absolute;left:862px;top:1067.1px;width:17px;height:17px;border-radius:4px;background:#FFC91C"></div>
<div style="position:absolute;left:862px;top:1097.8px;width:17px;height:17px;border-radius:4px;background:#68C7C1"></div>
<div style="position:absolute;left:862px;top:1128.8px;width:17px;height:17px;border-radius:50%;background:#EB6860"></div>
</div>
</body></html>
